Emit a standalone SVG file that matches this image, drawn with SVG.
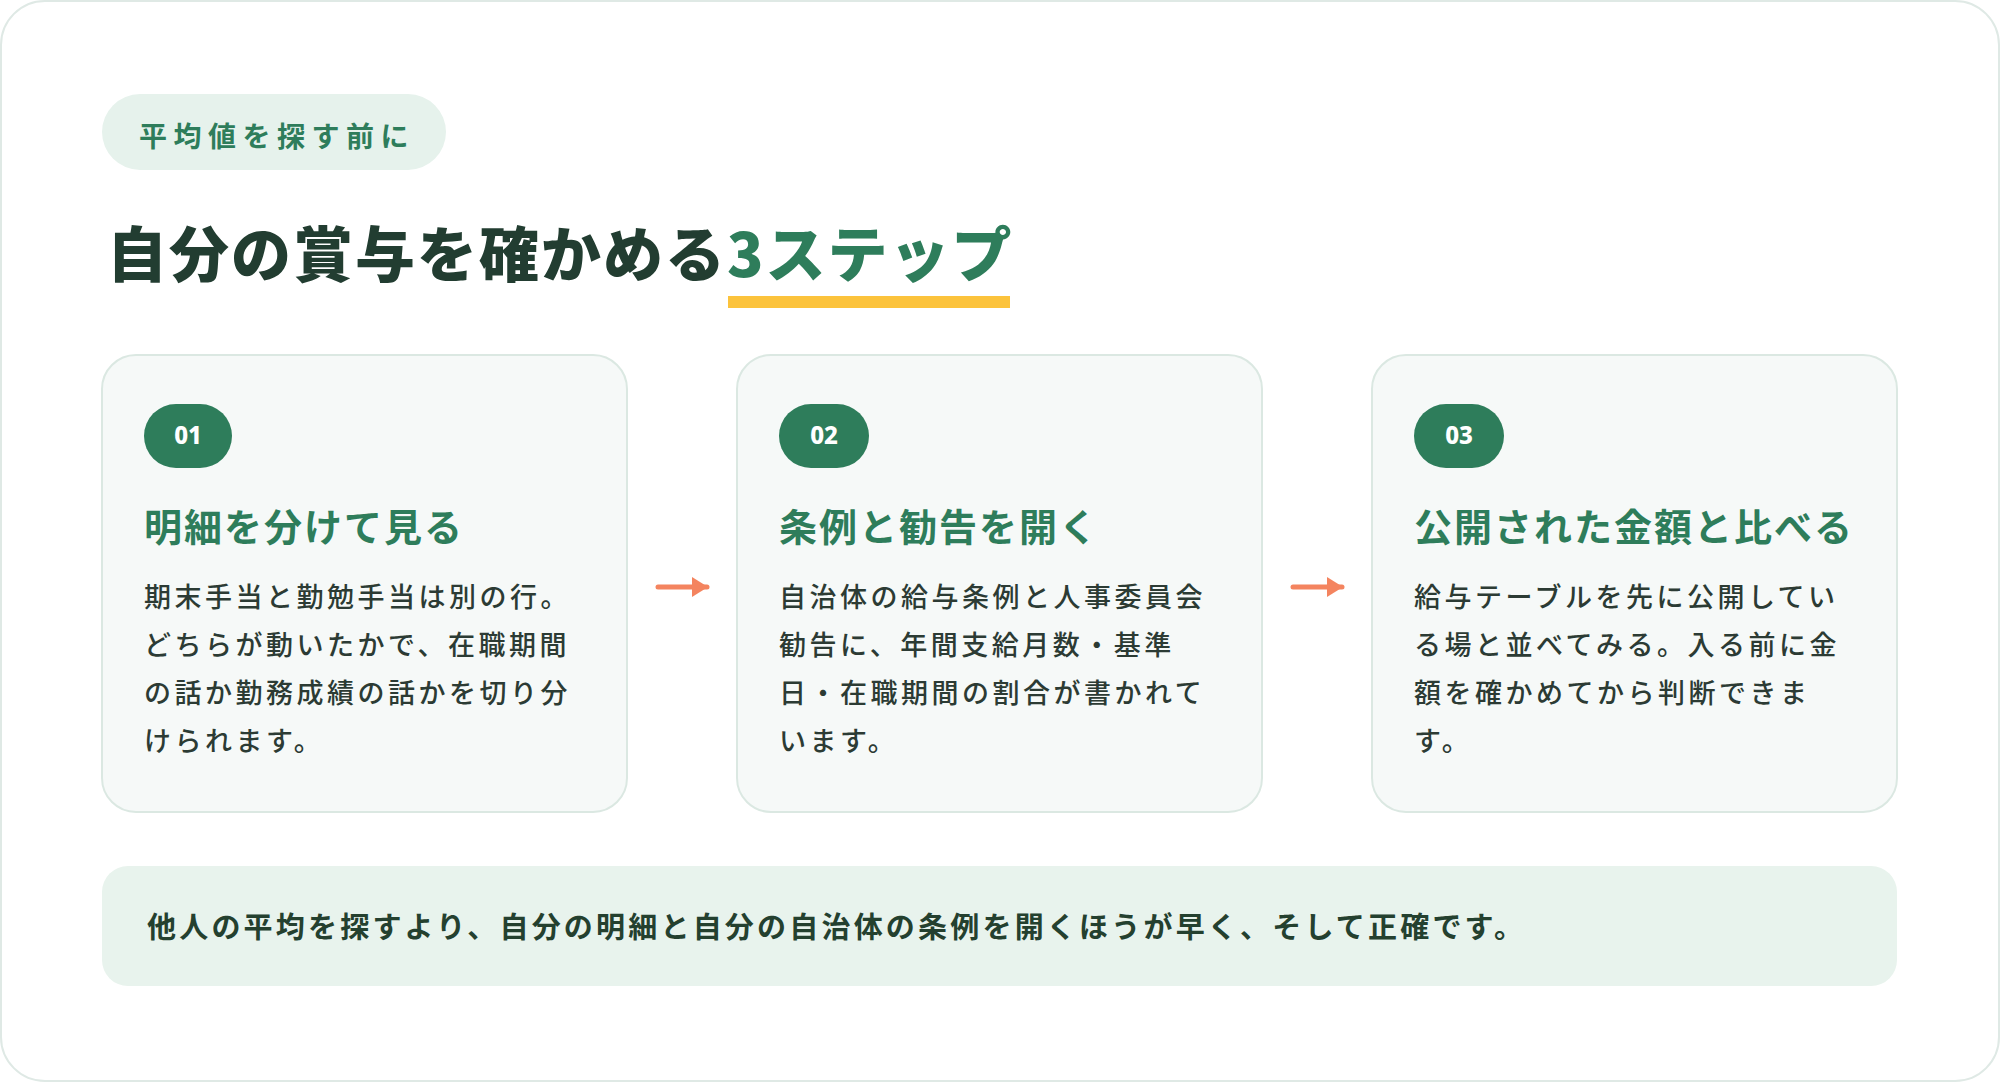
<svg xmlns="http://www.w3.org/2000/svg" width="2000" height="1082" viewBox="0 0 2000 1082">
<style>
.jp{font-family:"Noto Sans CJK JP","Noto Sans",sans-serif}
.card{fill:#f6f9f8;stroke:#dbe8e2;stroke-width:2}
.badge{fill:#2e7d5b}
.num{font-family:"Noto Sans","DejaVu Sans",sans-serif;font-weight:800;font-size:24px;fill:#ffffff;text-anchor:middle}
.ctitle{font-size:38px;font-weight:700;fill:#2e7d5b;letter-spacing:2px}
.body{font-size:27px;font-weight:500;fill:#2c3b34;letter-spacing:3.5px}
.arrow{stroke:#f4845f;stroke-width:5;stroke-linecap:round;fill:none}
</style>
<defs>
<marker id="ah" viewBox="0 0 16 20" refX="15" refY="10" markerWidth="16" markerHeight="20" orient="auto" markerUnits="userSpaceOnUse">
<path d="M0,0 L16,10 L0,20 z" fill="#f4845f"/>
</marker>
</defs>
<rect x="1" y="1" width="1998" height="1080" rx="44" fill="#ffffff" stroke="#dfe9e5" stroke-width="2"/>
<g id="header">
<rect x="102" y="94" width="344" height="76" rx="38" fill="#e6f2ec"/>
<text class="jp" x="139" y="147" font-size="28" font-weight="700" fill="#2e7d5b" letter-spacing="6.5">平均値を探す前に</text>
<text class="jp" x="107" y="277" font-size="60" font-weight="900" fill="#223d31" letter-spacing="2">自分の賞与を確かめる<tspan fill="#2e7d5b">3ステップ</tspan></text>
<rect x="728" y="296" width="282" height="12" fill="#fcc33c"/>
</g>
<g id="step1">
<rect class="card" x="102" y="355" width="525" height="457" rx="34"/>
<rect class="badge" x="144" y="404" width="88" height="64" rx="32"/>
<text class="num" x="188" y="444">01</text>
<text class="jp ctitle" x="144" y="541">明細を分けて見る</text>
<text class="jp body" x="144" y="607">期末手当と勤勉手当は別の行。</text>
<text class="jp body" x="144" y="655">どちらが動いたかで、在職期間</text>
<text class="jp body" x="144" y="703">の話か勤務成績の話かを切り分</text>
<text class="jp body" x="144" y="751">けられます。</text>
</g>
<g id="step2">
<rect class="card" x="737" y="355" width="525" height="457" rx="34"/>
<rect class="badge" x="779" y="404" width="90" height="64" rx="32"/>
<text class="num" x="824" y="444">02</text>
<text class="jp ctitle" x="779" y="541">条例と勧告を開く</text>
<text class="jp body" x="779" y="607">自治体の給与条例と人事委員会</text>
<text class="jp body" x="779" y="655">勧告に、年間支給月数・基準</text>
<text class="jp body" x="779" y="703">日・在職期間の割合が書かれて</text>
<text class="jp body" x="779" y="751">います。</text>
</g>
<g id="step3">
<rect class="card" x="1372" y="355" width="525" height="457" rx="34"/>
<rect class="badge" x="1414" y="404" width="90" height="64" rx="32"/>
<text class="num" x="1459" y="444">03</text>
<text class="jp ctitle" x="1414" y="541">公開された金額と比べる</text>
<text class="jp body" x="1414" y="607">給与テーブルを先に公開してい</text>
<text class="jp body" x="1414" y="655">る場と並べてみる。入る前に金</text>
<text class="jp body" x="1414" y="703">額を確かめてから判断できま</text>
<text class="jp body" x="1414" y="751">す。</text>
</g>
<g id="connectors">
<line class="arrow" x1="658" y1="587" x2="707" y2="587" marker-end="url(#ah)"/>
<line class="arrow" x1="1293" y1="587" x2="1342" y2="587" marker-end="url(#ah)"/>
</g>
<g id="summary">
<rect x="102" y="866" width="1795" height="120" rx="26" fill="#e8f3ed"/>
<text class="jp" x="147" y="938" font-size="29" font-weight="700" fill="#24402f" letter-spacing="3.2">他人の平均を探すより、自分の明細と自分の自治体の条例を開くほうが早く、そして正確です。</text>
</g>
</svg>
